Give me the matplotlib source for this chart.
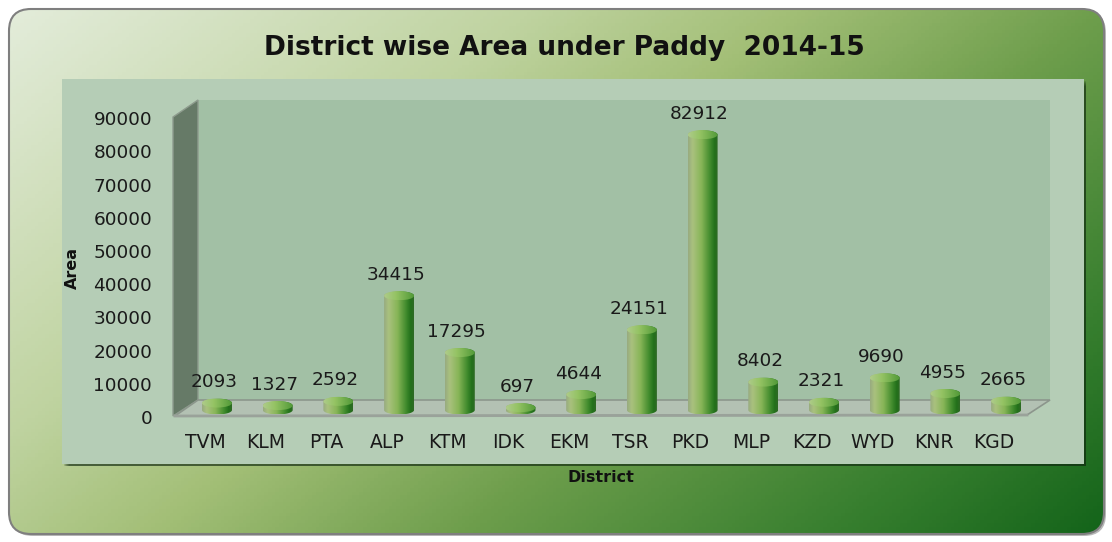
import numpy as np
import matplotlib
matplotlib.use("Agg")
import matplotlib.pyplot as plt
from matplotlib.patches import Rectangle, Polygon, FancyBboxPatch, PathPatch, Ellipse
from matplotlib.path import Path
from matplotlib.colors import LinearSegmentedColormap
from matplotlib.transforms import ScaledTranslation

# data
districts = ["TVM", "KLM", "PTA", "ALP", "KTM", "IDK", "EKM",
             "TSR", "PKD", "MLP", "KZD", "WYD", "KNR", "KGD"]
area = [2093, 1327, 2592, 34415, 17295, 697, 4644,
        24151, 82912, 8402, 2321, 9690, 4955, 2665]
yticks = list(range(0, 90001, 10000))

W, H = 1112, 542
fig = plt.figure(figsize=(W / 100, H / 100), dpi=100)
fig.patch.set_facecolor("white")

# background layer in pixel coordinates
bg = fig.add_axes([0, 0, 1, 1], zorder=0)
bg.set_xlim(0, W)
bg.set_ylim(H, 0)
bg.axis("off")

bg_cmap = LinearSegmentedColormap.from_list("bg", [
    (0.0, "#e3ecda"), (0.3, "#bfd3a0"), (0.45, "#a3bf77"),
    (0.63, "#6e9e4c"), (0.85, "#367e2e"), (1.0, "#14641a")])
u, v = np.meshgrid(np.linspace(0, 1, 300), np.linspace(0, 1, 150))
shadow = FancyBboxPatch((11, 11), 1095, 525, boxstyle="round,pad=0,rounding_size=22",
                        facecolor="#b8b8b8", edgecolor="none")
bg.add_patch(shadow)
frame = FancyBboxPatch((9, 9), 1095, 525, boxstyle="round,pad=0,rounding_size=22",
                       facecolor="none", edgecolor="#7f7f7f", lw=1.5, zorder=3)
bg.add_patch(frame)
im = bg.imshow(0.63 * u + 0.37 * v, cmap=bg_cmap, extent=(9, 1104, 534, 9),
               aspect="auto", zorder=2)
im.set_clip_path(frame)

# inner panel with soft shadow
for k in range(6):
    bg.add_patch(Rectangle((64 + k, 81 + k), 1022 - k, 385 - k,
                           facecolor="#112811", alpha=0.16, lw=0, zorder=4))
bg.add_patch(Rectangle((62, 79), 1022, 385, facecolor="#b5cdb6", zorder=5))
# back wall, side wall, floor
bg.add_patch(Rectangle((198, 100), 852, 300, facecolor="#a2c0a5", zorder=6))
bg.add_patch(Polygon([(173, 117), (198, 100), (198, 400), (173, 416)],
                     facecolor="#667a67", edgecolor="#8e9c8e", lw=1, zorder=7))
bg.add_patch(Polygon([(198, 400), (1050, 400), (1027, 415), (175, 416)],
                     facecolor="#b3c1b3", edgecolor="#8c968c", lw=1.2, zorder=7))
bg.plot([175, 1027], [416, 415], color="#9aa29a", lw=2, zorder=8)

# main axes (bars)
ax = fig.add_axes([198 / W, (H - 416) / H, 852 / W, 316 / H], zorder=1)
ax.set_facecolor("none")
for s in ax.spines.values():
    s.set_visible(False)

px_per_x = 60.7
px_per_y = 0.00332
xlim = (-(217 - 198) / px_per_x, (1050 - 217) / px_per_x)
ylim = (-(416 - 410) / px_per_y, (410 - 100) / px_per_y)

bw = 30 / px_per_x
hh = 4.5 / px_per_y

body_cmap = LinearSegmentedColormap.from_list("body", [
    (0.0, "#98ab80"), (0.15, "#a9c17e"), (0.45, "#87b557"),
    (0.75, "#3f8a2c"), (0.9, "#22701a"), (1.0, "#2f6a25")])
cap_cmap = LinearSegmentedColormap.from_list("cap", [
    (0.0, "#aecb8a"), (0.4, "#94c363"), (1.0, "#529a38")])
grad = np.linspace(0, 1, 64).reshape(1, -1)

x = np.arange(len(districts))
for xi, val in zip(x, area):
    t1 = np.linspace(np.pi, 2 * np.pi, 40)
    t2 = np.linspace(0, np.pi, 40)
    pts = np.vstack([
        np.column_stack([xi + bw / 2 * np.cos(t1), hh * np.sin(t1)]),
        np.column_stack([xi + bw / 2 * np.cos(t2), val + hh * np.sin(t2)])])
    pts = np.vstack([pts, pts[:1]])
    clip = PathPatch(Path(pts, closed=True), transform=ax.transData)
    b = ax.imshow(grad, cmap=body_cmap, extent=(xi - bw / 2, xi + bw / 2, -hh, val + hh),
                  aspect="auto", zorder=2)
    b.set_clip_path(clip)
    cap = Ellipse((xi, val), bw, 2 * hh, transform=ax.transData)
    c = ax.imshow(grad, cmap=cap_cmap, extent=(xi - bw / 2, xi + bw / 2, val - hh, val + hh),
                  aspect="auto", zorder=3)
    c.set_clip_path(cap)
    ax.annotate(f"{val}", (xi, val), xytext=(-3, 21), textcoords="offset pixels",
                ha="center", va="center", fontsize=13.3, color="#1a1a1a", zorder=4)

ax.set_xlim(*xlim)
ax.set_ylim(*ylim)
ax.set_xticks(x)
ax.set_xticklabels(districts, fontsize=13.5, color="#1a1a1a")
ax.set_yticks(yticks)
ax.set_yticklabels([str(t) for t in yticks], fontsize=13.3, color="#1a1a1a")
ax.tick_params(axis="both", length=0)
ax.tick_params(axis="y", pad=33)
ax.tick_params(axis="x", pad=12)
for lab in ax.get_yticklabels():
    lab.set_transform(lab.get_transform() + ScaledTranslation(0, -7 / 100, fig.dpi_scale_trans))
for lab in ax.get_xticklabels():
    lab.set_transform(lab.get_transform() + ScaledTranslation(-12 / 100, 0, fig.dpi_scale_trans))

fig.text(564 / W, 1 - 48 / H, "District wise Area under Paddy  2014-15",
         ha="center", va="center", fontsize=19, fontweight="bold", color="#111111")
fig.text(72 / W, 1 - 268 / H, "Area", rotation=90, ha="center", va="center",
         fontsize=11.5, fontweight="bold", color="#111111")
fig.text(601 / W, 1 - 478 / H, "District", ha="center", va="center",
         fontsize=11.5, fontweight="bold", color="#111111")

fig.savefig("out.png", dpi=100)
